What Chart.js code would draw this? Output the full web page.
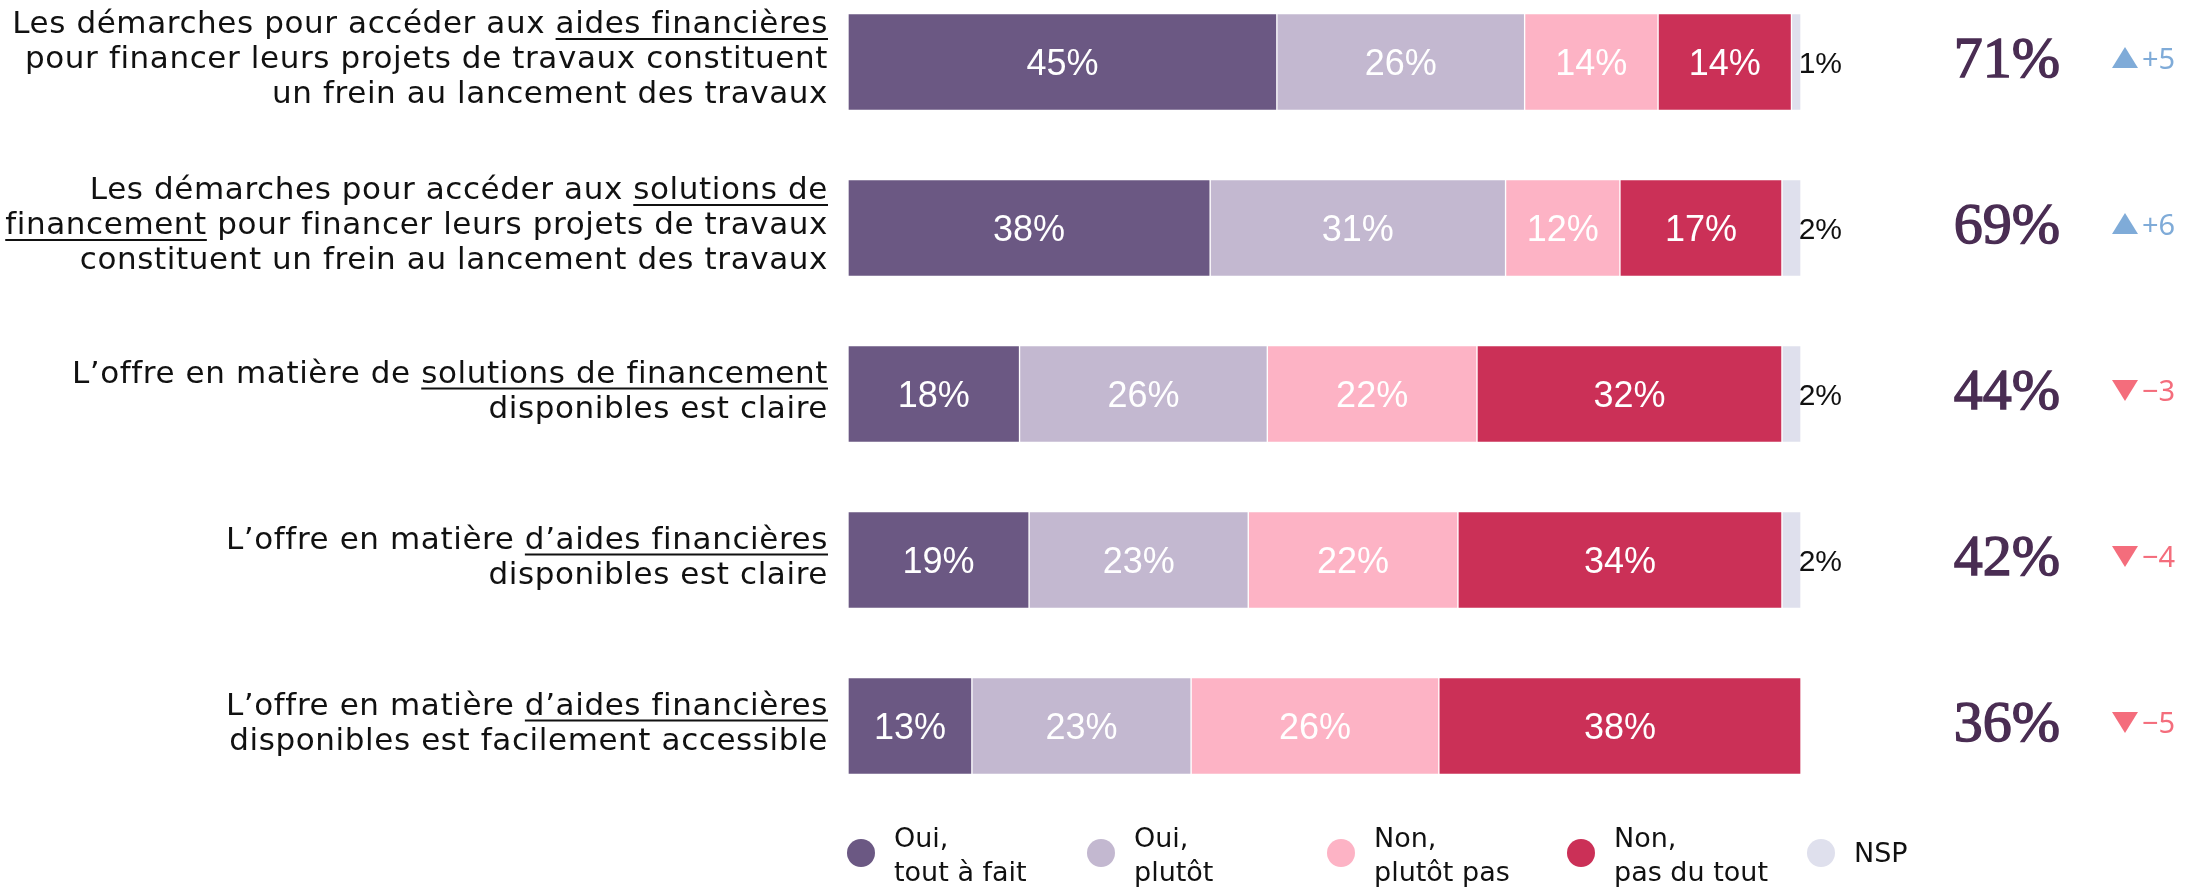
<!DOCTYPE html>
<html>
<head>
<meta charset="utf-8">
<script src="https://cdn.jsdelivr.net/npm/chart.js@4.4.1/dist/chart.umd.min.js"></script>
<style>
  html, body { margin: 0; padding: 0; background: #ffffff; }
  #wrap { width: 2205px; height: 890px; position: relative; }
</style>
</head>
<body>
<div id="wrap"><canvas id="freinsChart" width="2205" height="890"></canvas></div>
<script>
// Question labels, text in [brackets] is underlined
const categories = [
    ['Les démarches pour accéder aux [aides financières]', 'pour financer leurs projets de travaux constituent', 'un frein au lancement des travaux'],
    ['Les démarches pour accéder aux [solutions de]', '[financement] pour financer leurs projets de travaux', 'constituent un frein au lancement des travaux'],
    ['L’offre en matière de [solutions de financement]', 'disponibles est claire'],
    ['L’offre en matière [d’aides financières]', 'disponibles est claire'],
    ['L’offre en matière [d’aides financières]', 'disponibles est facilement accessible']
];

const seriesNames = ['Oui, tout à fait', 'Oui, plutôt', 'Non, plutôt pas', 'Non, pas du tout', 'NSP'];
const legendLabels = [['Oui,', 'tout à fait'], ['Oui,', 'plutôt'], ['Non,', 'plutôt pas'], ['Non,', 'pas du tout'], ['NSP']];

const ouiToutAFait = [45, 38, 18, 19, 13];
const ouiPlutot    = [26, 31, 26, 23, 23];
const nonPlutotPas = [14, 12, 22, 22, 26];
const nonPasDuTout = [14, 17, 32, 34, 38];
const nsp          = [1, 2, 2, 2, 0];

const totalOui = [71, 69, 44, 42, 36];
const evolution = [5, 6, -3, -4, -5];

const colors = ['#6b5883', '#c3b8d0', '#fdb3c5', '#cb3057', '#dfe0ed'];

const LABEL_FONT = "'DejaVu Sans', sans-serif";

function drawRichLine(ctx, line, rightX, y) {
    // split "[...]" parts into underlined segments
    const parts = [];
    const re = /\[([^\]]*)\]|([^\[]+)/g;
    let m;
    while ((m = re.exec(line)) !== null) {
        if (m[1] !== undefined) parts.push({ text: m[1], under: true });
        else parts.push({ text: m[2], under: false });
    }
    const total = parts.reduce((s, p) => s + ctx.measureText(p.text).width, 0);
    let x = rightX - total;
    ctx.textAlign = 'left';
    parts.forEach(p => {
        const w = ctx.measureText(p.text).width;
        ctx.fillText(p.text, x, y);
        if (p.under) {
            ctx.fillRect(x, y + 5, w, 2);
        }
        x += w;
    });
}

const annotations = {
    id: 'annotations',
    afterDatasetsDraw(chart) {
        const ctx = chart.ctx;
        const area = chart.chartArea;
        const yScale = chart.scales.y;
        ctx.save();
        ctx.textBaseline = 'alphabetic';

        // values inside the bars
        ctx.font = "36px 'Liberation Sans', Arial, sans-serif";
        ctx.fillStyle = '#ffffff';
        ctx.textAlign = 'center';
        for (let d = 0; d < 4; d++) {
            const meta = chart.getDatasetMeta(d);
            meta.data.forEach((bar, i) => {
                const v = chart.data.datasets[d].data[i];
                if (!v) return;
                const c = bar.getCenterPoint();
                ctx.fillText(v + '%', c.x, c.y + 13);
            });
        }

        // NSP values right of the bars
        ctx.font = "30px 'Liberation Sans', Arial, sans-serif";
        ctx.fillStyle = '#111111';
        ctx.textAlign = 'right';
        nsp.forEach((v, i) => {
            if (!v) return;
            const y = yScale.getPixelForValue(i);
            ctx.fillText(v + '%', area.right + 41, y + 11);
        });

        // question labels on the left
        ctx.font = '31px ' + LABEL_FONT;
        ctx.letterSpacing = '0.6px';
        ctx.fillStyle = '#111111';
        categories.forEach((lines, i) => {
            const yc = yScale.getPixelForValue(i);
            const n = lines.length;
            lines.forEach((line, k) => {
                const y = yc + 6 + (k - (n - 1) / 2) * 35;
                drawRichLine(ctx, line, area.left - 20, y);
            });
        });
        ctx.letterSpacing = '0px';

        // total "oui" and evolution
        categories.forEach((_, i) => {
            const yc = yScale.getPixelForValue(i);
            ctx.font = "58px 'Liberation Serif', serif";
            ctx.fillStyle = '#4a2d53';
            ctx.strokeStyle = '#4a2d53';
            ctx.lineWidth = 1.4;
            ctx.textAlign = 'center';
            ctx.fillText(totalOui[i] + '%', 2007, yc + 15);
            ctx.strokeText(totalOui[i] + '%', 2007, yc + 15);

            const up = evolution[i] > 0;
            const col = up ? '#7fabd8' : '#f46d7c';
            const tx = 2125;
            const ty = yc - 4;
            ctx.fillStyle = col;
            ctx.beginPath();
            if (up) {
                ctx.moveTo(tx - 13, ty + 10);
                ctx.lineTo(tx + 13, ty + 10);
                ctx.lineTo(tx, ty - 11);
            } else {
                ctx.moveTo(tx - 13, ty - 10);
                ctx.lineTo(tx + 13, ty - 10);
                ctx.lineTo(tx, ty + 11);
            }
            ctx.closePath();
            ctx.fill();
            ctx.font = "29px 'Noto Sans', sans-serif";
            ctx.textAlign = 'left';
            const txt = (up ? '+' : '\u2212') + Math.abs(evolution[i]);
            ctx.fillText(txt, 2142, yc + 7);
        });

        // legend
        ctx.font = '27px ' + LABEL_FONT;
        legendLabels.forEach((lab, i) => {
            const cx = 861 + i * 240;
            const cy = 853;
            ctx.fillStyle = colors[i];
            ctx.beginPath();
            ctx.arc(cx, cy, 14, 0, Math.PI * 2);
            ctx.fill();
            ctx.fillStyle = '#111111';
            ctx.textAlign = 'left';
            if (lab.length === 1) {
                ctx.fillText(lab[0], cx + 33, cy + 9);
            } else {
                ctx.fillText(lab[0], cx + 33, 847);
                ctx.fillText(lab[1], cx + 33, 881);
            }
        });

        ctx.restore();
    }
};

const seriesData = [ouiToutAFait, ouiPlutot, nonPlutotPas, nonPasDuTout, nsp];

const chart = new Chart(document.getElementById('freinsChart'), {
    type: 'bar',
    data: {
        labels: categories.map(c => c.join(' ')),
        datasets: seriesData.map((vals, i) => ({
            label: seriesNames[i],
            data: vals,
            backgroundColor: colors[i],
            borderColor: 'rgba(255,255,255,0.7)',
            borderWidth: 1,
            borderSkipped: false,
            barThickness: 97,
            clip: false
        }))
    },
    options: {
        indexAxis: 'y',
        responsive: false,
        animation: false,
        layout: {
            padding: { left: 848, right: 404, top: 62, bottom: 164 }
        },
        scales: {
            x: { stacked: true, min: 0, max: 100, display: false },
            y: { stacked: true, offset: false, display: false }
        },
        plugins: {
            legend: { display: false },
            tooltip: { enabled: false }
        }
    },
    plugins: [annotations]
});
</script>
</body>
</html>
